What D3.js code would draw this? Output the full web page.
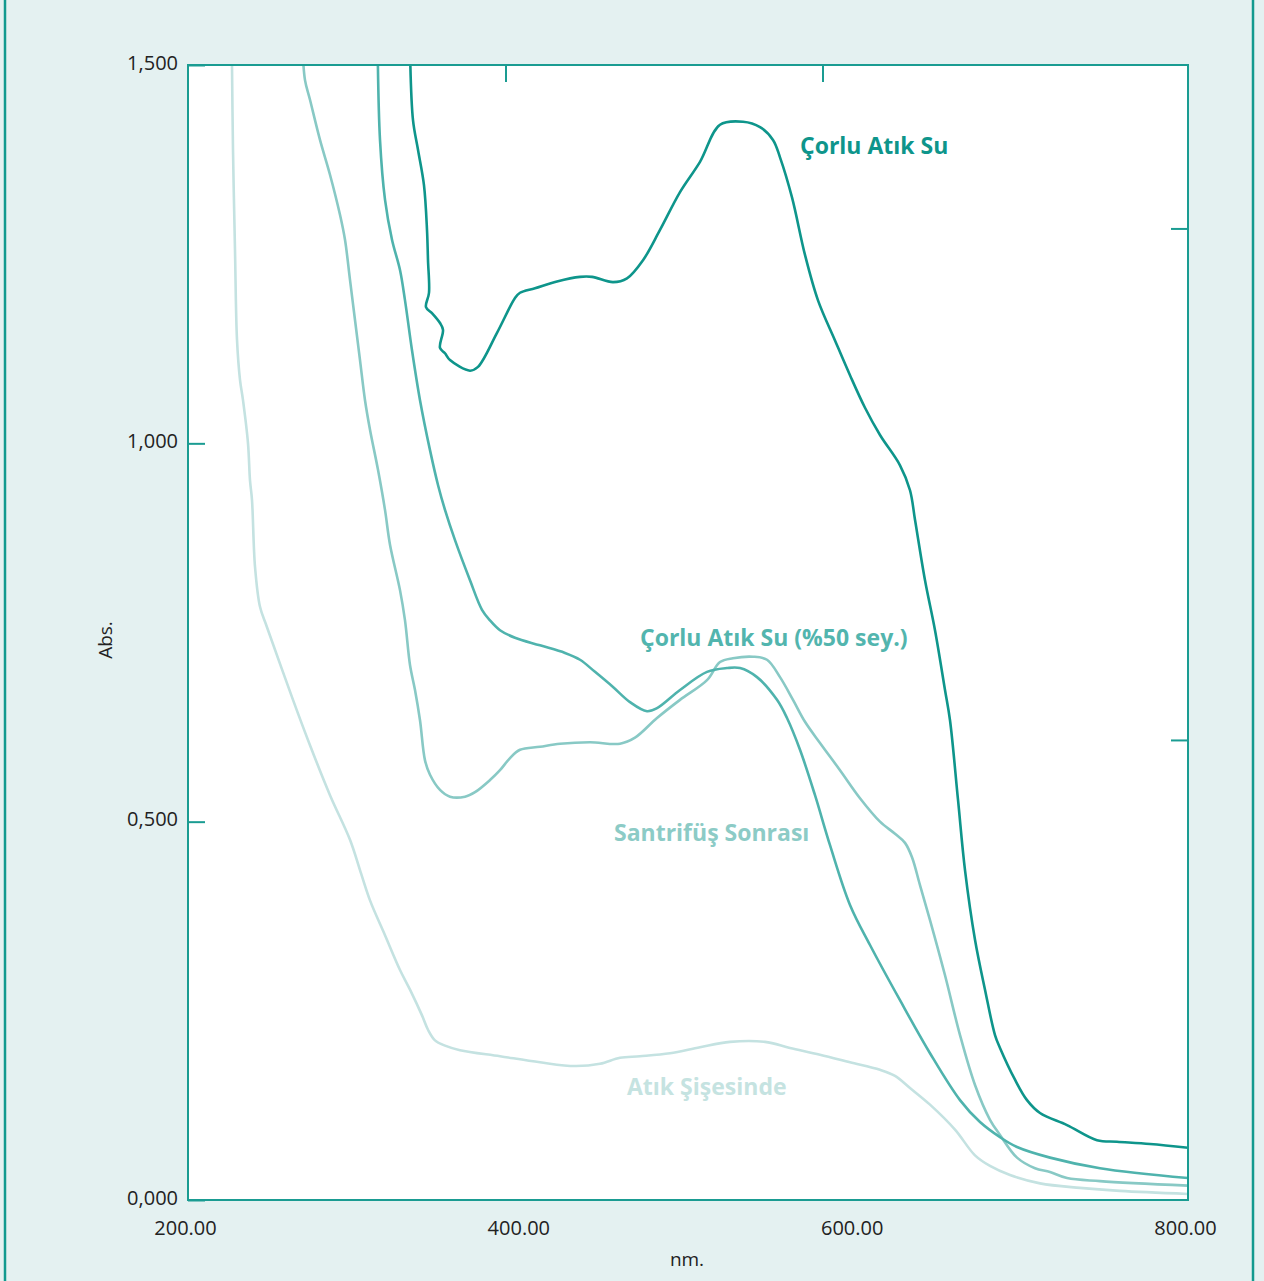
<!DOCTYPE html>
<html><head><meta charset="utf-8">
<script src="https://cdn.jsdelivr.net/npm/d3@7"></script>
<style>
html,body{margin:0;padding:0;background:#e4f1f1;}
svg{display:block;}
text{font-family:"Open Sans","Noto Sans",sans-serif;}
</style></head>
<body>
<script>
// ---- data (nm, Abs.) ----
const xTicks = [200, 400, 600, 800];
const yTicks = [0, 0.5, 1.0, 1.5];
const topTicks = [390.5, 580.7];
const rightTicks = [1.284, 0.608];

const seriesNames = ["Çorlu Atık Su", "Çorlu Atık Su (%50 sey.)", "Santrifüş Sonrası", "Atık Şişesinde"];

const corlu = [
 [333.2,1.52],[335.0,1.427],[338.0,1.388],[341.6,1.341],[343.4,1.282],[344.0,1.242],[344.6,1.199],
 [342.8,1.180],[346.4,1.172],[351.2,1.159],[353.0,1.150],[351.2,1.126],[354.2,1.119],[357.2,1.110],
 [369.2,1.096],[374.0,1.101],[385.4,1.146],[396.2,1.192],[399.2,1.199],[408.2,1.205],[421.4,1.214],
 [435.2,1.220],[442.4,1.220],[455.0,1.213],[463.4,1.218],[473.0,1.242],[483.2,1.282],[495.2,1.332],
 [507.2,1.372],[519.2,1.421],[533.0,1.425],[543.2,1.418],[551.0,1.401],[555.2,1.378],[562.4,1.325],
 [570.2,1.249],[578.0,1.189],[588.2,1.136],[597.2,1.090],[606.2,1.047],[615.2,1.011],[627.2,0.971],
 [633.2,0.938],[636.2,0.899],[642.2,0.819],[648.2,0.753],[654.2,0.674],[657.2,0.634],[662.0,0.529],
 [666.2,0.436],[672.2,0.344],[678.2,0.278],[684.2,0.218],[687.2,0.201],[696.2,0.159],[703.4,0.132],
 [711.2,0.115],[727.4,0.099],[745.4,0.079],[757.4,0.077],[777.2,0.074],[800,0.069]
];
const corlu50 = [
 [313.8,1.52],[315.2,1.401],[318.2,1.322],[322.4,1.269],[327.2,1.229],[330.2,1.189],[334.4,1.123],
 [339.2,1.057],[345.2,0.991],[350.0,0.945],[354.2,0.912],[360.2,0.872],[369.2,0.819],[376.4,0.780],
 [381.2,0.766],[387.2,0.753],[396.2,0.743],[411.2,0.733],[426.2,0.723],[435.2,0.714],[444.2,0.698],
 [455.0,0.678],[465.2,0.658],[475.4,0.646],[481.4,0.650],[495.2,0.674],[511.4,0.698],[523.4,0.703],
 [531.2,0.703],[541.4,0.691],[553.4,0.661],[559.4,0.637],[567.2,0.595],[576.2,0.535],[585.2,0.469],
 [597.2,0.390],[609.2,0.337],[627.2,0.264],[645.2,0.194],[663.2,0.132],[675.2,0.103],[687.2,0.083],
 [697.4,0.070],[717.2,0.056],[747.2,0.042],[800,0.029]
];
const santrifus = [
 [268.8,1.52],[270.2,1.480],[273.2,1.454],[279.2,1.401],[285.2,1.355],[291.2,1.302],[294.2,1.269],
 [297.2,1.216],[300.2,1.163],[303.2,1.110],[306.2,1.057],[309.2,1.018],[314.0,0.965],[318.2,0.912],
 [321.2,0.866],[327.2,0.806],[330.2,0.766],[333.2,0.707],[336.2,0.674],[339.2,0.634],[342.2,0.581],
 [345.2,0.562],[351.2,0.542],[357.2,0.533],[366.2,0.533],[372.2,0.539],[381.2,0.555],[387.2,0.568],
 [393.2,0.584],[399.2,0.595],[411.2,0.599],[423.2,0.603],[441.2,0.605],[459.2,0.603],[468.2,0.611],
 [481.4,0.637],[495.2,0.661],[511.4,0.687],[519.2,0.711],[527.0,0.716],[539.0,0.718],[547.4,0.714],
 [555.2,0.691],[563.0,0.661],[570.2,0.632],[579.2,0.604],[591.2,0.568],[603.2,0.531],[615.2,0.500],
 [624.2,0.484],[630.2,0.472],[634.4,0.453],[639.2,0.416],[645.2,0.370],[654.2,0.297],[663.2,0.218],
 [672.2,0.152],[681.2,0.106],[687.2,0.086],[697.4,0.056],[708.2,0.042],[717.2,0.037],[727.4,0.029],
 [747.2,0.025],[800,0.019]
];
const sisesinde = [
 [226.3,1.52],[227.0,1.388],[228.2,1.255],[229.4,1.137],[231.2,1.084],[233.0,1.057],[236.0,1.000],
 [237.2,0.951],[238.4,0.925],[240.2,0.837],[243.2,0.784],[247.4,0.757],[263.0,0.661],[273.2,0.601],
 [285.2,0.535],[297.2,0.476],[303.2,0.436],[309.2,0.396],[318.2,0.350],[327.2,0.304],[333.2,0.278],
 [340.4,0.244],[344.0,0.225],[348.2,0.211],[354.2,0.204],[363.2,0.198],[387.2,0.190],[411.2,0.182],
 [432.2,0.177],[447.2,0.180],[459.2,0.188],[471.2,0.190],[489.2,0.194],[507.2,0.202],[525.2,0.209],
 [546.2,0.209],[561.2,0.201],[579.2,0.192],[597.2,0.182],[615.2,0.172],[624.2,0.164],[633.2,0.148],
 [645.2,0.126],[660.2,0.093],[672.2,0.059],[681.2,0.045],[693.2,0.033],[711.2,0.022],[735.2,0.016],
 [759.2,0.012],[800,0.008]
];
const seriesData = [corlu, corlu50, santrifus, sisesinde];
const seriesColors = ["#0e958b", "#4fb3ad", "#88c9c5", "#c4e2e1"];
// label anchor points (nm, Abs.) — left edge, vertical centre
const labelPos = [[567.2, 1.393], [471.2, 0.743], [455.6, 0.485], [463.4, 0.149]];

// ---- layout ----
const W = 1264, H = 1281;
const L = 188, R = 1188, T = 65, B = 1200;
const frameColor = "#1a9c92";

const svg = d3.select("body").append("svg").attr("width", W).attr("height", H);
svg.append("rect").attr("width", W).attr("height", H).attr("fill", "#e4f1f1");
svg.append("line").attr("x1",5).attr("x2",5).attr("y1",0).attr("y2",H).attr("stroke","#119a8f").attr("stroke-width",2.5);
svg.append("line").attr("x1",1253).attr("x2",1253).attr("y1",0).attr("y2",H).attr("stroke","#119a8f").attr("stroke-width",2.5);

const x = d3.scaleLinear().domain([200, 800]).range([L, R]);
const y = d3.scaleLinear().domain([0, 1.5]).range([B, T]);

svg.append("rect").attr("x", L).attr("y", T).attr("width", R-L).attr("height", B-T).attr("fill", "#fff");

svg.append("clipPath").attr("id","clip").append("rect").attr("x", L).attr("y", T).attr("width", R-L).attr("height", B-T);

const line = d3.line().x(d => x(d[0])).y(d => y(d[1])).curve(d3.curveCatmullRom.alpha(0.5));
const g = svg.append("g").attr("clip-path","url(#clip)");
seriesData.slice().reverse().forEach((s, i) => {
  const idx = seriesData.length - 1 - i;
  g.append("path").attr("d", line(s)).attr("fill","none").attr("stroke", seriesColors[idx]).attr("stroke-width", 2.6).attr("stroke-linejoin","round");
});

// frame
svg.append("rect").attr("x", L).attr("y", T).attr("width", R-L).attr("height", B-T)
  .attr("fill","none").attr("stroke", frameColor).attr("stroke-width", 2);

const fmtY = v => d3.format(".3f")(v).replace(".", ",");
const fmtX = d3.format(".2f");

const ax = (sel) => { sel.select(".domain").remove(); sel.selectAll(".tick line").attr("stroke", frameColor).attr("stroke-width", 2);
  sel.selectAll("text").attr("fill","#222").attr("font-size", 20).attr("font-family", '"Open Sans","Noto Sans",sans-serif'); };

svg.append("g").attr("transform", `translate(${L},0)`)
  .call(d3.axisLeft(y).tickValues(yTicks).tickFormat(fmtY).tickSizeInner(-17).tickSizeOuter(0).tickPadding(10))
  .call(ax).selectAll("text").attr("dy", "0.2em");
svg.append("g").attr("transform", `translate(0,${B})`)
  .call(d3.axisBottom(x).tickValues(xTicks).tickFormat(fmtX).tickSize(0).tickPadding(21))
  .call(ax).selectAll("text").attr("dx", "-0.15em");
svg.append("g").attr("transform", `translate(0,${T})`)
  .call(d3.axisTop(x).tickValues(topTicks).tickFormat("").tickSizeInner(-17).tickSizeOuter(0))
  .call(ax);
svg.append("g").attr("transform", `translate(${R},0)`)
  .call(d3.axisRight(y).tickValues(rightTicks).tickFormat("").tickSizeInner(-17).tickSizeOuter(0))
  .call(ax);

// axis titles
svg.append("text").attr("x", 687).attr("y", 1266).attr("text-anchor","middle").attr("font-size", 19).attr("fill","#222").text("nm.");
svg.append("text").attr("transform","translate(112,640) rotate(-90)").attr("text-anchor","middle").attr("font-size", 19).attr("fill","#222").text("Abs.");

// series labels
const labelColors = ["#0e958b", "#52b5ae", "#8ccbc6", "#c5e3e1"];
seriesNames.forEach((n, i) => {
  svg.append("text").attr("x", x(labelPos[i][0])).attr("y", y(labelPos[i][1])).attr("dy","0.35em")
    .attr("font-size", 23).attr("font-weight", "bold").attr("fill", labelColors[i]).text(n);
});
</script>
</body></html>
